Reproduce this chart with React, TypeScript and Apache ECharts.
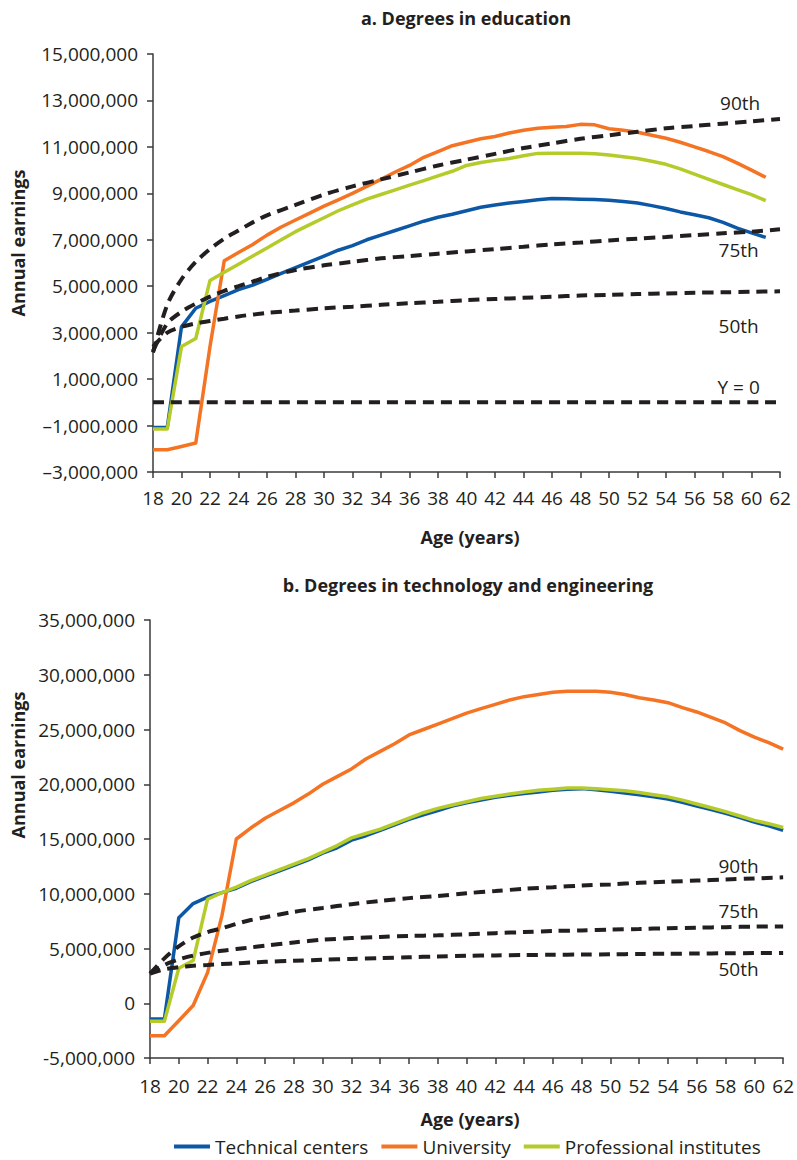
import React, { useEffect, useRef } from "react";
import * as echarts from "echarts";

const MILLION = 1000000;
const FONT = "'Open Sans', 'Noto Sans', sans-serif";
const INK = "#231f20";
const BLUE = "#0d58a6";
const ORANGE = "#f47424";
const GREEN = "#b5cb2a";

const SERIES_NAMES = ["Technical centers", "University", "Professional institutes"];

// Panel a: Degrees in education (values in millions)
const AGES_A = [18, 19, 20, 21, 22, 23, 24, 25, 26, 27, 28, 29, 30, 31, 32, 33, 34, 35, 36, 37, 38, 39, 40, 41, 42, 43, 44, 45, 46, 47, 48, 49, 50, 51, 52, 53, 54, 55, 56, 57, 58, 59, 60, 61];
const TECH_A = [-1.08, -1.08, 3.25, 4.05, 4.35, 4.6, 4.85, 5.05, 5.3, 5.55, 5.8, 6.05, 6.3, 6.55, 6.75, 7.0, 7.2, 7.4, 7.6, 7.8, 7.97, 8.1, 8.25, 8.4, 8.5, 8.58, 8.65, 8.72, 8.78, 8.77, 8.75, 8.73, 8.7, 8.65, 8.58, 8.47, 8.35, 8.2, 8.08, 7.95, 7.75, 7.5, 7.3, 7.1];
const UNIV_A = [-2.04, -2.04, -1.9, -1.75, 2.4, 6.1, 6.45, 6.8, 7.2, 7.55, 7.85, 8.15, 8.45, 8.72, 9.0, 9.3, 9.6, 9.92, 10.2, 10.55, 10.8, 11.05, 11.2, 11.35, 11.45, 11.6, 11.72, 11.8, 11.85, 11.88, 11.97, 11.95, 11.78, 11.72, 11.63, 11.5, 11.37, 11.2, 11.0, 10.8, 10.58, 10.3, 10.0, 9.69];
const PROF_A = [-1.15, -1.15, 2.4, 2.75, 5.25, 5.6, 5.95, 6.3, 6.65, 7.0, 7.35, 7.65, 7.95, 8.25, 8.5, 8.75, 8.95, 9.15, 9.35, 9.55, 9.75, 9.95, 10.2, 10.33, 10.42, 10.5, 10.62, 10.72, 10.73, 10.73, 10.73, 10.7, 10.65, 10.58, 10.5, 10.38, 10.25, 10.05, 9.83, 9.6, 9.38, 9.16, 8.94, 8.69];
const PCT_AGES_A = [18, 19, 20, 21, 22, 23, 24, 25, 26, 28, 30, 32, 34, 36, 38, 40, 42, 44, 46, 48, 50, 52, 54, 56, 58, 60, 62];
const P90_A = [2.15, 4.2, 5.3, 6.05, 6.6, 7.05, 7.4, 7.75, 8.05, 8.5, 8.95, 9.3, 9.6, 9.9, 10.2, 10.45, 10.7, 10.95, 11.15, 11.35, 11.5, 11.65, 11.8, 11.9, 12.0, 12.1, 12.2];
const P75_A = [2.2, 3.4, 3.9, 4.25, 4.55, 4.8, 5.0, 5.2, 5.4, 5.7, 5.9, 6.05, 6.2, 6.3, 6.4, 6.5, 6.6, 6.7, 6.8, 6.88, 6.97, 7.05, 7.12, 7.2, 7.28, 7.35, 7.45];
const P50_A = [2.4, 3.0, 3.25, 3.4, 3.5, 3.6, 3.7, 3.78, 3.85, 3.95, 4.05, 4.12, 4.2, 4.27, 4.33, 4.4, 4.45, 4.5, 4.55, 4.6, 4.63, 4.66, 4.69, 4.72, 4.74, 4.76, 4.78];
const ZERO_AGES = [18, 62];
const ZERO_VALUES = [0, 0];
const Y_TICKS_A = [-3, -1, 1, 3, 5, 7, 9, 11, 13, 15];

// Panel b: Degrees in technology and engineering (values in millions)
const AGES_B = [18, 19, 20, 21, 22, 23, 24, 25, 26, 27, 28, 29, 30, 31, 32, 33, 34, 35, 36, 37, 38, 39, 40, 41, 42, 43, 44, 45, 46, 47, 48, 49, 50, 51, 52, 53, 54, 55, 56, 57, 58, 59, 60, 61, 62];
const TECH_B = [-1.43, -1.43, 7.8, 9.1, 9.7, 10.1, 10.5, 11.1, 11.6, 12.1, 12.6, 13.1, 13.7, 14.2, 14.9, 15.3, 15.8, 16.3, 16.8, 17.2, 17.6, 18.0, 18.3, 18.55, 18.8, 19.0, 19.15, 19.3, 19.45, 19.55, 19.6, 19.5, 19.35, 19.2, 19.05, 18.85, 18.65, 18.35, 18.0, 17.7, 17.35, 16.95, 16.55, 16.2, 15.8];
const UNIV_B = [-2.96, -2.96, -1.6, -0.2, 2.8, 8.0, 15.0, 16.0, 16.9, 17.6, 18.3, 19.1, 20.0, 20.7, 21.4, 22.3, 23.0, 23.7, 24.5, 25.0, 25.5, 26.0, 26.5, 26.9, 27.3, 27.7, 28.0, 28.2, 28.4, 28.5, 28.5, 28.5, 28.4, 28.2, 27.9, 27.7, 27.45, 27.0, 26.6, 26.1, 25.6, 24.9, 24.3, 23.8, 23.2];
const PROF_B = [-1.65, -1.65, 3.2, 3.9, 9.5, 10.1, 10.6, 11.2, 11.7, 12.2, 12.7, 13.2, 13.8, 14.4, 15.1, 15.5, 15.9, 16.4, 16.9, 17.4, 17.8, 18.1, 18.4, 18.7, 18.9, 19.1, 19.3, 19.45, 19.55, 19.65, 19.65, 19.6, 19.5, 19.4, 19.25, 19.05, 18.85, 18.55, 18.2, 17.85, 17.5, 17.1, 16.7, 16.4, 16.05];
const PCT_AGES_B = [18, 19, 20, 21, 22, 23, 24, 25, 26, 28, 30, 32, 34, 36, 38, 40, 42, 44, 46, 48, 50, 52, 54, 56, 58, 60, 62];
const P90_B = [2.7, 4.1, 5.2, 6.0, 6.5, 6.85, 7.25, 7.6, 7.85, 8.35, 8.7, 9.05, 9.35, 9.6, 9.8, 10.05, 10.25, 10.45, 10.6, 10.75, 10.85, 11.0, 11.1, 11.2, 11.3, 11.4, 11.5];
const P75_B = [2.7, 3.5, 4.0, 4.35, 4.6, 4.8, 4.95, 5.1, 5.25, 5.55, 5.8, 5.95, 6.05, 6.15, 6.2, 6.3, 6.4, 6.5, 6.6, 6.65, 6.72, 6.78, 6.85, 6.9, 6.95, 7.0, 7.02];
const P50_B = [2.7, 3.1, 3.3, 3.42, 3.5, 3.58, 3.65, 3.72, 3.78, 3.88, 3.97, 4.05, 4.12, 4.2, 4.27, 4.33, 4.37, 4.4, 4.43, 4.45, 4.47, 4.5, 4.52, 4.54, 4.56, 4.58, 4.6];
const Y_TICKS_B = [-5, 0, 5, 10, 15, 20, 25, 30, 35];

const X_MIN = 18;
const X_MAX = 62;
const X_STEP = 2;

const pairs = (xs: number[], ys: number[]) => xs.map((x, i) => [x, ys[i] * MILLION]);

const fmt = (neg: string) => (v: number) => {
  const s = Math.abs(v).toLocaleString("en-US");
  return v < 0 ? neg + s : s;
};

function solid(name: string, color: string, idx: number, xs: number[], ys: number[]) {
  return {
    type: "line",
    name,
    xAxisIndex: idx,
    yAxisIndex: idx,
    data: pairs(xs, ys),
    symbol: "none",
    showSymbol: false,
    lineStyle: { color, width: 3.5, cap: "butt", join: "round" },
    itemStyle: { color },
    z: 2,
  };
}

function dashed(name: string, idx: number, xs: number[], ys: number[]) {
  return {
    type: "line",
    name,
    xAxisIndex: idx,
    yAxisIndex: idx,
    data: pairs(xs, ys),
    symbol: "none",
    showSymbol: false,
    smooth: 0.3,
    lineStyle: { color: INK, width: 4, type: [11, 7], cap: "butt" },
    itemStyle: { color: INK },
    z: 3,
  };
}

function xAxis(idx: number, margin: number) {
  return {
    type: "value",
    gridIndex: idx,
    min: X_MIN,
    max: X_MAX,
    interval: X_STEP,
    axisLine: { show: true, onZero: false, lineStyle: { color: "#3a3a3a", width: 1.5 } },
    axisTick: { show: true, length: 6, lineStyle: { color: "#3a3a3a", width: 1.5 } },
    axisLabel: { fontSize: 19, color: INK, fontFamily: FONT, margin },
    splitLine: { show: false },
  };
}

function yAxis(idx: number, min: number, max: number, ticks: number[], neg: string) {
  const vals = ticks.map((t) => t * MILLION);
  return {
    type: "value",
    gridIndex: idx,
    min: min * MILLION,
    max: max * MILLION,
    axisLine: { show: true, onZero: false, lineStyle: { color: "#3a3a3a", width: 1.5 } },
    axisTick: { show: true, length: 6, customValues: vals, lineStyle: { color: "#3a3a3a", width: 1.5 } },
    axisLabel: { fontSize: 19, color: INK, fontFamily: FONT, margin: 15, customValues: vals, formatter: fmt(neg) },
    splitLine: { show: false },
  };
}

export default function App() {
  const ref = useRef<HTMLDivElement>(null);
  useEffect(() => {
    if (!ref.current) return;
    const chart = echarts.init(ref.current, undefined, { renderer: "svg" });
    chart.setOption({
      animation: false,
      backgroundColor: "#ffffff",
      textStyle: { fontFamily: FONT },
      grid: [
        { left: 153, top: 54, width: 627, height: 418 },
        { left: 150, top: 620, width: 634, height: 438 },
      ],
      xAxis: [xAxis(0, 16), xAxis(1, 18)],
      yAxis: [
        yAxis(0, Y_TICKS_A[0], Y_TICKS_A[Y_TICKS_A.length - 1], Y_TICKS_A, "\u2013"),
        yAxis(1, Y_TICKS_B[0], Y_TICKS_B[Y_TICKS_B.length - 1], Y_TICKS_B, "-"),
      ],
      legend: {
        data: SERIES_NAMES,
        left: 169,
        top: 1132,
        icon: "rect",
        itemWidth: 36,
        itemHeight: 4,
        itemGap: 13,
        textStyle: { fontSize: 19, color: INK, fontFamily: FONT },
      },
      series: [
        solid(SERIES_NAMES[0], BLUE, 0, AGES_A, TECH_A),
        solid(SERIES_NAMES[1], ORANGE, 0, AGES_A, UNIV_A),
        solid(SERIES_NAMES[2], GREEN, 0, AGES_A, PROF_A),
        dashed("90th", 0, PCT_AGES_A, P90_A),
        dashed("75th", 0, PCT_AGES_A, P75_A),
        dashed("50th", 0, PCT_AGES_A, P50_A),
        dashed("Y = 0", 0, ZERO_AGES, ZERO_VALUES),
        solid(SERIES_NAMES[0], BLUE, 1, AGES_B, TECH_B),
        solid(SERIES_NAMES[1], ORANGE, 1, AGES_B, UNIV_B),
        solid(SERIES_NAMES[2], GREEN, 1, AGES_B, PROF_B),
        dashed("90th", 1, PCT_AGES_B, P90_B),
        dashed("75th", 1, PCT_AGES_B, P75_B),
        dashed("50th", 1, PCT_AGES_B, P50_B),
      ],
    });

    const annotations: [number, string, number, number][] = [
      [0, "90th", 59.2, 12.87],
      [0, "75th", 59.1, 6.56],
      [0, "50th", 59.1, 3.29],
      [0, "Y = 0", 59.1, 0.67],
      [1, "90th", 58.9, 12.49],
      [1, "75th", 58.9, 8.45],
      [1, "50th", 58.9, 3.13],
    ];
    const texts: any[] = annotations.map(([g, label, x, y]) => {
      const p = chart.convertToPixel({ gridIndex: g }, [x, y * MILLION]) as number[];
      return {
        type: "text",
        x: p[0],
        y: p[1],
        style: { text: label, fill: INK, font: `19px ${FONT}`, align: "center", verticalAlign: "middle" },
        z: 10,
      };
    });
    const bold = (text: string, x: number, y: number, rotation = 0) => ({
      type: "text",
      x,
      y,
      rotation,
      style: { text, fill: INK, font: `bold 18px ${FONT}`, align: "center", verticalAlign: "middle" },
      z: 10,
    });
    texts.push(bold("a. Degrees in education", 466, 18));
    texts.push(bold("b. Degrees in technology and engineering", 468, 585));
    texts.push(bold("Age (years)", 470, 537));
    texts.push(bold("Age (years)", 470, 1119));
    texts.push(bold("Annual earnings", 18, 243, Math.PI / 2));
    texts.push(bold("Annual earnings", 18, 765, Math.PI / 2));
    chart.setOption({ graphic: texts });

    return () => chart.dispose();
  }, []);
  return <div ref={ref} style={{ position: "absolute", left: 0, top: 0, width: 797, height: 1160 }} />;
}
